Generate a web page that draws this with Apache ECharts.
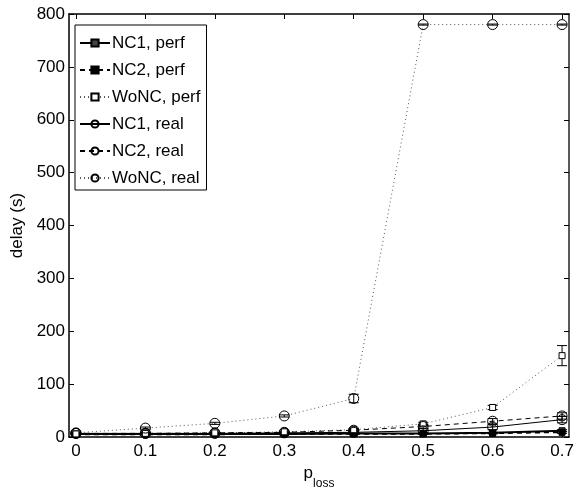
<!DOCTYPE html>
<html>
<head>
<meta charset="utf-8">
<script src="https://cdn.jsdelivr.net/npm/echarts@6/dist/echarts.min.js"></script>
<style>html,body{margin:0;padding:0;background:#fff;}#c{width:579px;height:495px;}</style>
</head>
<body>
<div id="c"></div>
<script>
const xVals = [0, 0.1, 0.2, 0.3, 0.4, 0.5, 0.6, 0.7];
const xTickLabels = [0, 0.1, 0.2, 0.3, 0.4, 0.5, 0.6, 0.7];

const nc1Perf = [6, 6, 6, 6, 7, 7, 8, 12];
const nc2Perf = [5, 5, 5, 6, 6, 6, 7, 9];
const woncPerf = [6, 7, 8, 10, 14, 25, 56, 154];
const nc1Real = [7, 7, 7, 8, 9, 12, 19, 33];
const nc2Real = [7, 7, 8, 9, 13, 20, 30, 40];
const woncReal = [8, 17, 26, 40, 73, 780, 780, 780];

const nc1PerfErr = [1, 1, 1, 1, 1, 1, 1, 2];
const nc2PerfErr = [1, 1, 1, 1, 1, 1, 1, 2];
const woncPerfErr = [1, 1, 1, 1, 2, 3, 4, 19];
const nc1RealErr = [1, 1, 1, 1, 2, 4, 5, 6];
const nc2RealErr = [1, 1, 1, 1, 2, 4, 5, 6];
const woncRealErr = [1, 2, 2, 2, 8, 1, 1, 1];

const names = ['NC1, perf', 'NC2, perf', 'WoNC, perf', 'NC1, real', 'NC2, real', 'WoNC, real'];

const FONT = 'Liberation Sans';

function pairs(ys) { return xVals.map((x, i) => [x, ys[i]]); }
function errData(ys, es) { return xVals.map((x, i) => [x, ys[i] - es[i], ys[i] + es[i]]); }

function errSeries(ys, es) {
  return {
    type: 'custom',
    clip: true,
    silent: true,
    z: 1,
    encode: { x: 0, y: [1, 2] },
    data: errData(ys, es),
    renderItem: function (params, api) {
      const lo = api.coord([api.value(0), api.value(1)]);
      const hi = api.coord([api.value(0), api.value(2)]);
      const hw = 5;
      const st = { stroke: '#000', lineWidth: 1 };
      return {
        type: 'group',
        children: [
          { type: 'line', shape: { x1: lo[0], y1: lo[1], x2: hi[0], y2: hi[1] }, style: st },
          { type: 'line', shape: { x1: lo[0] - hw, y1: lo[1], x2: lo[0] + hw, y2: lo[1] }, style: st },
          { type: 'line', shape: { x1: hi[0] - hw, y1: hi[1], x2: hi[0] + hw, y2: hi[1] }, style: st }
        ]
      };
    }
  };
}

function lineSeries(name, ys, lineType, lineWidth, symbol, size, fill, lineColor) {
  return {
    name: name,
    type: 'line',
    data: pairs(ys),
    symbol: symbol,
    symbolSize: size,
    showAllSymbol: true,
    z: 3,
    lineStyle: { color: lineColor || '#000', width: lineWidth, type: lineType },
    itemStyle: { color: fill, borderColor: '#000', borderWidth: 1 },
    emphasis: { disabled: true }
  };
}

const chart = echarts.init(document.getElementById('c'), null, { renderer: 'canvas' });

const tickStyle = { show: true, inside: true, length: 5, lineStyle: { color: '#000', width: 1 } };

chart.setOption({
  animation: false,
  backgroundColor: '#fff',
  grid: { left: 69, right: 10, top: 14, bottom: 44, containLabel: false },
  xAxis: [
    {
      type: 'value', min: -0.01, max: 0.71,
      axisLine: { show: true, onZero: false, lineStyle: { color: '#000', width: 1.5 } },
      axisTick: Object.assign({ customValues: xTickLabels }, tickStyle),
      axisLabel: {
        customValues: xTickLabels, color: '#000', fontFamily: FONT, fontSize: 17, margin: 6,
        formatter: v => (Math.abs(v) < 1e-9 ? '0' : v.toFixed(1))
      },
      splitLine: { show: false },
      name: '{p|p}{s|loss}',
      nameLocation: 'middle',
      nameGap: 26,
      nameTextStyle: {
        rich: {
          p: { fontFamily: FONT, fontSize: 17, color: '#000' },
          s: { fontFamily: FONT, fontSize: 12, color: '#000', verticalAlign: 'bottom', padding: [0, 0, -8, 0] }
        }
      }
    },
    {
      type: 'value', min: -0.01, max: 0.71, position: 'top',
      axisLine: { show: true, onZero: false, lineStyle: { color: '#000', width: 1.5 } },
      axisTick: Object.assign({ customValues: xTickLabels }, tickStyle),
      axisLabel: { show: false },
      splitLine: { show: false }
    }
  ],
  yAxis: [
    {
      type: 'value', min: 0, max: 800, interval: 100,
      axisLine: { show: true, onZero: false, lineStyle: { color: '#000', width: 1.5 } },
      axisTick: tickStyle,
      axisLabel: { color: '#000', fontFamily: FONT, fontSize: 17, margin: 4 },
      splitLine: { show: false },
      name: 'delay (s)',
      nameLocation: 'middle',
      nameGap: 34,
      nameTextStyle: { fontFamily: FONT, fontSize: 17, color: '#000' }
    },
    {
      type: 'value', min: 0, max: 800, interval: 100, position: 'right',
      axisLine: { show: true, onZero: false, lineStyle: { color: '#222', width: 1.5 } },
      axisTick: tickStyle,
      axisLabel: { show: false },
      splitLine: { show: false }
    }
  ],
  legend: {
    data: names,
    orient: 'vertical',
    left: 75,
    top: 25,
    padding: [8, 6, 2, 4],
    itemWidth: 30,
    itemHeight: 9,
    itemGap: 7,
    backgroundColor: '#fff',
    borderColor: '#000',
    borderWidth: 1,
    borderRadius: 0,
    selectedMode: false,
    textStyle: { fontFamily: FONT, fontSize: 17, color: '#000', lineHeight: 20, padding: [0, 0, 0, -3] }
  },
  series: [
    errSeries(nc1Perf, nc1PerfErr),
    errSeries(nc2Perf, nc2PerfErr),
    errSeries(woncPerf, woncPerfErr),
    errSeries(nc1Real, nc1RealErr),
    errSeries(nc2Real, nc2RealErr),
    errSeries(woncReal, woncRealErr),
    lineSeries(names[0], nc1Perf, 'solid', 2, 'rect', 6, '#444'),
    lineSeries(names[1], nc2Perf, [5, 4], 1.5, 'rect', 6, '#000'),
    lineSeries(names[2], woncPerf, [1, 3], 1, 'rect', 6, '#fff', '#555'),
    lineSeries(names[3], nc1Real, 'solid', 1, 'circle', 10, 'rgba(255,255,255,0)'),
    lineSeries(names[4], nc2Real, [5, 4], 1, 'circle', 10, 'rgba(255,255,255,0)'),
    lineSeries(names[5], woncReal, [1, 3], 1, 'circle', 10, 'rgba(255,255,255,0)', '#555')
  ]
});
</script>
</body>
</html>
